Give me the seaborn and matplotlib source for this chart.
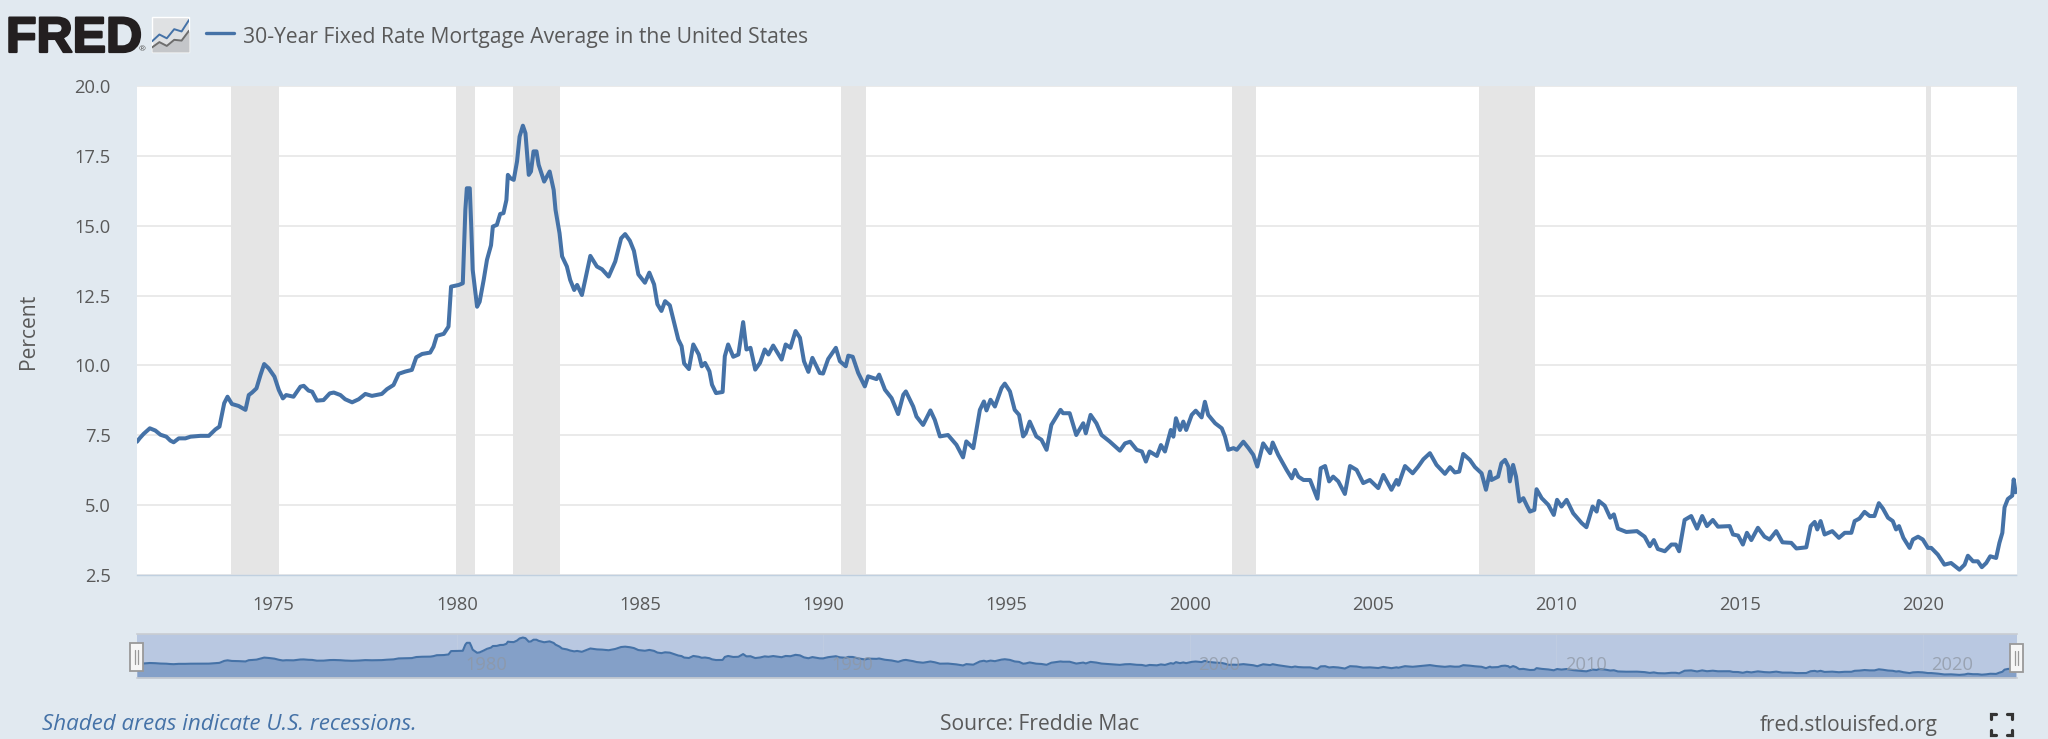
import matplotlib
matplotlib.use('Agg')
import matplotlib.pyplot as plt
import matplotlib.patheffects as pe
from matplotlib.lines import Line2D
from matplotlib.patches import Rectangle
import pandas as pd
import seaborn as sns

W, H = 2048, 739

BG = '#e1e9f0'
BLUE = '#4572a7'
TEXT = '#595959'

# decimal year and percent
years = [
	1971.27, 1971.34, 1971.45, 1971.62, 1971.77, 1971.91, 1972.07, 1972.18, 1972.27, 1972.41, 1972.59, 1972.73, 1973.0, 1973.23,
	1973.41, 1973.52, 1973.65, 1973.74, 1973.86, 1974.04, 1974.23, 1974.32, 1974.41, 1974.53, 1974.64, 1974.74, 1974.86, 1975.02,
	1975.14, 1975.25, 1975.34, 1975.54, 1975.73, 1975.82, 1975.95, 1976.05, 1976.18, 1976.36, 1976.53, 1976.64, 1976.82, 1976.95,
	1977.14, 1977.32, 1977.5, 1977.68, 1977.95, 1978.09, 1978.27, 1978.41, 1978.59, 1978.77, 1978.89, 1979.05, 1979.27, 1979.36,
	1979.45, 1979.64, 1979.77, 1979.84, 1980.05, 1980.16, 1980.23, 1980.27, 1980.35, 1980.39, 1980.43, 1980.55, 1980.62, 1980.73,
	1980.82, 1980.93, 1980.98, 1981.09, 1981.18, 1981.27, 1981.35, 1981.39, 1981.46, 1981.55, 1981.64, 1981.71, 1981.8, 1981.87,
	1981.96, 1982.02, 1982.09, 1982.17, 1982.23, 1982.38, 1982.53, 1982.64, 1982.69, 1982.8, 1982.87, 1983.0, 1983.09, 1983.2,
	1983.28, 1983.41, 1983.5, 1983.64, 1983.82, 1983.96, 1984.14, 1984.32, 1984.48, 1984.59, 1984.72,
	1984.83, 1984.95, 1985.13, 1985.25, 1985.38, 1985.47, 1985.58, 1985.68, 1985.81, 1985.95, 1986.04, 1986.13, 1986.2, 1986.33,
	1986.45, 1986.6, 1986.68, 1986.77, 1986.89, 1986.96, 1987.07, 1987.25, 1987.31, 1987.4, 1987.54, 1987.68, 1987.81, 1987.9,
	1988.01, 1988.14, 1988.27, 1988.4, 1988.5, 1988.63, 1988.86, 1988.97, 1989.1, 1989.24, 1989.36, 1989.47, 1989.59, 1989.7,
	1989.9, 1989.99, 1990.13, 1990.34, 1990.45, 1990.61, 1990.68, 1990.8, 1990.95, 1991.13, 1991.22, 1991.45, 1991.52, 1991.68,
	1991.86, 1992.04, 1992.18, 1992.25, 1992.45, 1992.54, 1992.72, 1992.92, 1993.04, 1993.18, 1993.4, 1993.63, 1993.81, 1993.9,
	1994.09, 1994.27, 1994.38, 1994.45, 1994.56, 1994.68, 1994.86, 1994.95, 1995.09, 1995.22, 1995.34, 1995.45, 1995.52, 1995.63,
	1995.81, 1995.95, 1996.09, 1996.22, 1996.47, 1996.54, 1996.72, 1996.9, 1997.09, 1997.16, 1997.29, 1997.45, 1997.59, 1997.81,
	1998.09, 1998.23, 1998.37, 1998.55, 1998.69, 1998.8, 1998.9, 1999.1, 1999.21, 1999.32, 1999.48, 1999.55, 1999.62, 1999.73,
	1999.82, 1999.9, 2000.05, 2000.16, 2000.32, 2000.41, 2000.5, 2000.69, 2000.87, 2000.96, 2001.05, 2001.19, 2001.28, 2001.46,
	2001.6, 2001.73, 2001.84, 2002.0, 2002.19, 2002.26, 2002.41, 2002.64, 2002.78, 2002.87, 2002.96, 2003.1, 2003.28, 2003.48,
	2003.57, 2003.69, 2003.8, 2003.91, 2004.05, 2004.23, 2004.37, 2004.55, 2004.73, 2004.91, 2005.14, 2005.28, 2005.5, 2005.64,
	2005.69, 2005.87, 2006.08, 2006.23, 2006.37, 2006.55, 2006.73, 2006.96, 2007.1, 2007.23, 2007.35, 2007.46, 2007.64, 2007.78,
	2007.96, 2008.08, 2008.19, 2008.23, 2008.41, 2008.5, 2008.6, 2008.69, 2008.73, 2008.82, 2008.9, 2008.99, 2009.1, 2009.19,
	2009.28, 2009.4, 2009.46, 2009.6, 2009.78, 2009.93, 2010.02, 2010.14, 2010.28, 2010.46, 2010.69, 2010.82, 2010.99, 2011.1,
	2011.16, 2011.32, 2011.47, 2011.57, 2011.68, 2011.91, 2012.2, 2012.41, 2012.55, 2012.66, 2012.77, 2012.96, 2013.14, 2013.26,
	2013.35, 2013.5, 2013.68, 2013.84, 2013.98, 2014.11, 2014.27, 2014.41, 2014.73, 2014.82, 2014.96, 2015.09, 2015.2, 2015.32,
	2015.5, 2015.68, 2015.82, 2016.0, 2016.17, 2016.41, 2016.55, 2016.82, 2016.94, 2017.05, 2017.12, 2017.21, 2017.32, 2017.53,
	2017.71, 2017.87, 2018.05, 2018.14, 2018.27, 2018.41, 2018.55, 2018.68, 2018.8, 2018.91, 2019.05, 2019.18, 2019.27, 2019.35,
	2019.47, 2019.64, 2019.73, 2019.87, 2020.0, 2020.14, 2020.23, 2020.41, 2020.59, 2020.77, 2021.0, 2021.14, 2021.23, 2021.37,
	2021.5, 2021.61, 2021.73, 2021.84, 2022.0, 2022.09, 2022.17, 2022.23, 2022.32, 2022.38, 2022.44, 2022.48, 2022.53,
]
rates = [
	7.27, 7.39, 7.55, 7.75, 7.67, 7.52, 7.45, 7.31, 7.25, 7.39, 7.39, 7.45, 7.48, 7.48,
	7.71, 7.81, 8.65, 8.88, 8.62, 8.55, 8.41, 8.94, 9.03, 9.18, 9.66, 10.05, 9.9, 9.6,
	9.12, 8.82, 8.94, 8.88, 9.24, 9.27, 9.1, 9.06, 8.74, 8.76, 9.0, 9.03, 8.94, 8.79,
	8.68, 8.79, 8.98, 8.91, 8.98, 9.15, 9.3, 9.7, 9.78, 9.84, 10.29, 10.41, 10.46, 10.67,
	11.06, 11.13, 11.39, 12.82, 12.88, 12.94, 15.57, 16.34, 16.34, 15.0, 13.42, 12.1, 12.28, 13.06,
	13.78, 14.3, 14.97, 15.03, 15.42, 15.45, 15.92, 16.82, 16.7, 16.64, 17.3, 18.19, 18.58, 18.31,
	16.82, 16.94, 17.66, 17.66, 17.18, 16.58, 16.94, 16.28, 15.57, 14.73, 13.9, 13.54, 13.06, 12.7,
	12.88, 12.52, 13.06, 13.92, 13.54, 13.44, 13.18, 13.72, 14.55, 14.7, 14.46,
	14.1, 13.26, 12.96, 13.32, 12.9, 12.19, 11.95, 12.3, 12.15, 11.4, 10.93, 10.69, 10.07, 9.87,
	10.75, 10.39, 9.97, 10.09, 9.79, 9.31, 9.01, 9.05, 10.33, 10.75, 10.31, 10.39, 11.55, 10.57,
	10.63, 9.85, 10.09, 10.57, 10.39, 10.71, 10.21, 10.75, 10.63, 11.23, 10.99, 10.15, 9.77, 10.27,
	9.73, 9.71, 10.23, 10.63, 10.15, 9.97, 10.35, 10.31, 9.73, 9.25, 9.61, 9.51, 9.67, 9.13,
	8.83, 8.26, 8.95, 9.07, 8.53, 8.17, 7.87, 8.39, 8.05, 7.46, 7.51, 7.16, 6.71, 7.28,
	7.04, 8.41, 8.71, 8.39, 8.77, 8.53, 9.19, 9.35, 9.07, 8.41, 8.23, 7.46, 7.57, 7.99,
	7.46, 7.34, 6.98, 7.87, 8.41, 8.29, 8.29, 7.51, 7.93, 7.57, 8.23, 7.93, 7.51, 7.28,
	6.95, 7.21, 7.27, 6.98, 6.92, 6.56, 6.92, 6.76, 7.15, 6.92, 7.69, 7.45, 8.11, 7.69,
	7.99, 7.69, 8.23, 8.38, 8.14, 8.7, 8.23, 7.93, 7.75, 7.45, 6.98, 7.04, 6.98, 7.27,
	7.04, 6.8, 6.38, 7.21, 6.86, 7.24, 6.8, 6.26, 5.96, 6.26, 6.02, 5.9, 5.9, 5.23,
	6.32, 6.4, 5.85, 6.02, 5.85, 5.4, 6.4, 6.26, 5.79, 5.9, 5.61, 6.08, 5.55, 5.9,
	5.73, 6.4, 6.14, 6.38, 6.64, 6.86, 6.44, 6.12, 6.36, 6.17, 6.2, 6.83, 6.62, 6.36,
	6.14, 5.55, 6.2, 5.9, 6.02, 6.5, 6.62, 6.38, 5.85, 6.44, 6.02, 5.13, 5.25, 5.0,
	4.77, 4.83, 5.57, 5.25, 5.01, 4.65, 5.19, 4.95, 5.19, 4.71, 4.36, 4.21, 4.95, 4.77,
	5.15, 4.98, 4.55, 4.67, 4.16, 4.04, 4.07, 3.87, 3.53, 3.75, 3.43, 3.35, 3.59, 3.59,
	3.35, 4.47, 4.61, 4.16, 4.61, 4.25, 4.47, 4.23, 4.25, 3.95, 3.91, 3.59, 4.01, 3.75,
	4.19, 3.87, 3.77, 4.07, 3.67, 3.65, 3.45, 3.49, 4.25, 4.4, 4.13, 4.43, 3.95, 4.07,
	3.83, 4.01, 4.01, 4.43, 4.52, 4.76, 4.61, 4.61, 5.07, 4.88, 4.55, 4.43, 4.13, 4.25,
	3.83, 3.47, 3.77, 3.87, 3.77, 3.47, 3.47, 3.23, 2.87, 2.93, 2.69, 2.87, 3.19, 2.99,
	2.99, 2.78, 2.93, 3.17, 3.11, 3.65, 4.01, 4.92, 5.22, 5.28, 5.34, 5.92, 5.46,
]

recession_starts = [1973.84, 1979.98, 1981.52, 1990.48, 2001.15, 2007.89, 2020.08]
recession_ends = [1975.14, 1980.49, 1982.80, 1991.16, 2001.81, 2009.42, 2020.22]

y_ticks = [2.5, 5.0, 7.5, 10.0, 12.5, 15.0, 17.5, 20.0]
x_ticks = [1975, 1980, 1985, 1990, 1995, 2000, 2005, 2010, 2015, 2020]
nav_ticks = [1980, 1990, 2000, 2010, 2020]

icon_x = [0, 1, 2, 3, 4, 5]
icon_blue = [1.4, 2.3, 1.8, 3.0, 2.7, 4.2]
icon_grey = [0.6, 1.3, 0.8, 1.6, 1.5, 2.8]

sns.set_theme(style='white')
plt.rcParams['font.family'] = ['Open Sans', 'DejaVu Sans']


def fx(x):
	return x / W


def fy(y):
	return 1 - y / H


def px_axes(fig, left, top, right, bottom):
	return fig.add_axes([fx(left), fy(bottom), (right - left) / W, (bottom - top) / H])


df = pd.DataFrame({'year': years, 'rate': rates})

fig = plt.figure(figsize=(W / 100, H / 100), dpi=100, facecolor=BG)

# main chart
ax = px_axes(fig, 137, 86, 2017, 575)
ax.set_facecolor('white')
ax.set_axisbelow(True)
ax.grid(axis='y', color='#e6e6e6', linewidth=1.2)
for start, end in zip(recession_starts, recession_ends):
	ax.axvspan(start, end, color='#e5e5e5', linewidth=0, zorder=1)
sns.lineplot(data=df, x='year', y='rate', color=BLUE, linewidth=2.9, ax=ax, zorder=3, errorbar=None)
ax.set_xlim(1971.27, 2022.57)
ax.set_ylim(2.5, 20)
ax.set_xticks(x_ticks)
ax.set_xticklabels([str(t) for t in x_ticks])
ax.set_yticks(y_ticks)
ax.set_yticklabels(['{:.1f}'.format(t) for t in y_ticks])
ax.tick_params(axis='x', length=11, width=0.7, color='#c0d0e0', pad=4, labelsize=13.2, labelcolor=TEXT)
ax.tick_params(axis='y', length=0, pad=19, labelsize=13.2, labelcolor=TEXT)
ax.set_xlabel('')
ax.set_ylabel('')
for side in ['top', 'left', 'right']:
	ax.spines[side].set_visible(False)
ax.spines['bottom'].set_color('#c0d0e0')
ax.spines['bottom'].set_linewidth(1)
ax.spines['bottom'].set_linestyle((0, (1, 1)))

fig.text(fx(28), fy(331), 'Percent', rotation=90, ha='center', va='center', fontsize=15.2, color=TEXT)

# navigator under the chart
nav = px_axes(fig, 137, 634, 2017, 678)
nav.set_facecolor('#b9c8e1')
nav.fill_between(df['year'], df['rate'], 1.37, color='#84a0c8', linewidth=0)
sns.lineplot(data=df, x='year', y='rate', color=BLUE, linewidth=1.5, ax=nav, errorbar=None)
nav.set_xlim(1971.27, 2022.57)
nav.set_ylim(1.37, 20.09)
nav.set_xticks([])
nav.set_yticks([])
nav.set_xlabel('')
nav.set_ylabel('')
for t in nav_ticks:
	nav.axvline(t, color='#c4cfe2', linewidth=0.7, alpha=0.6, zorder=0.5)
	nav.annotate(str(t), (t, 0.3), xycoords=nav.get_xaxis_transform(), xytext=(6, 0), textcoords='offset points',
		ha='left', va='center', fontsize=13.2, color='#8f97a3', alpha=0.75, zorder=5)
for side in ['left', 'right']:
	nav.spines[side].set_visible(False)
for side in ['top', 'bottom']:
	nav.spines[side].set_color('#c9cdd2')
	nav.spines[side].set_linewidth(1.2)

for left, right, top, bottom in [(130, 143, 643, 671), (2010, 2023, 644, 672)]:
	fig.add_artist(Rectangle((fx(left), fy(bottom)), (right - left) / W, (bottom - top) / H, transform=fig.transFigure,
		facecolor='#f6f6f6', edgecolor='#999999', linewidth=1.3, zorder=6))
	for dx in [5, 8]:
		fig.add_artist(Line2D([fx(left + dx)] * 2, [fy(top + 7), fy(bottom - 7)], color='#999999', linewidth=0.9, zorder=7))

# header
logo = fig.text(fx(6), fy(52), 'FRED', family='Liberation Sans', fontweight='bold', fontsize=36, color='#231f20',
	ha='left', va='baseline')
logo.set_path_effects([pe.withStroke(linewidth=1.6, foreground='#231f20')])
fig.text(fx(142), fy(50), '\u00ae', fontsize=6, color='#555555', ha='center', va='center')

icon = px_axes(fig, 152, 17, 189, 52)
icon.set_facecolor('#dfe1e3')
icon.fill_between(icon_x, icon_grey, 0, color='#c4c6c9', linewidth=0)
sns.lineplot(x=icon_x, y=icon_grey, color='#6d6d6d', linewidth=1.4, ax=icon)
sns.lineplot(x=icon_x, y=icon_blue, color=BLUE, linewidth=1.4, ax=icon)
icon.set_xlim(0, 5)
icon.set_ylim(0, 4.6)
icon.axis('off')
icon.add_patch(Rectangle((0, 0), 1, 1, transform=icon.transAxes, facecolor='#dfe1e3', zorder=0, clip_on=False))

fig.add_artist(Line2D([fx(206), fx(234)], [fy(33), fy(33)], color=BLUE, linewidth=2.4))
fig.text(fx(243), fy(37), '30-Year Fixed Rate Mortgage Average in the United States', fontsize=15.25, color=TEXT,
	ha='left', va='center')

# footer
fig.text(fx(42), fy(725), 'Shaded areas indicate U.S. recessions.', fontsize=16.1, style='italic', color=BLUE, ha='left', va='center')
fig.text(fx(940), fy(725), 'Source: Freddie Mac', fontsize=15.2, color=TEXT, ha='left', va='center')
fig.text(fx(1760), fy(725), 'fred.stlouisfed.org', fontsize=15, color=TEXT, ha='left', va='center')

# fullscreen button
for cx, sx in [(1991, 1), (2012, -1)]:
	for cy, sy in [(714, 1), (735, -1)]:
		fig.add_artist(Line2D([fx(cx + sx * 5), fx(cx), fx(cx)], [fy(cy), fy(cy), fy(cy + sy * 5)],
			color='#333333', linewidth=2.3, solid_joinstyle='miter'))

plt.savefig('out.png', dpi=100, facecolor=BG)
plt.close()
